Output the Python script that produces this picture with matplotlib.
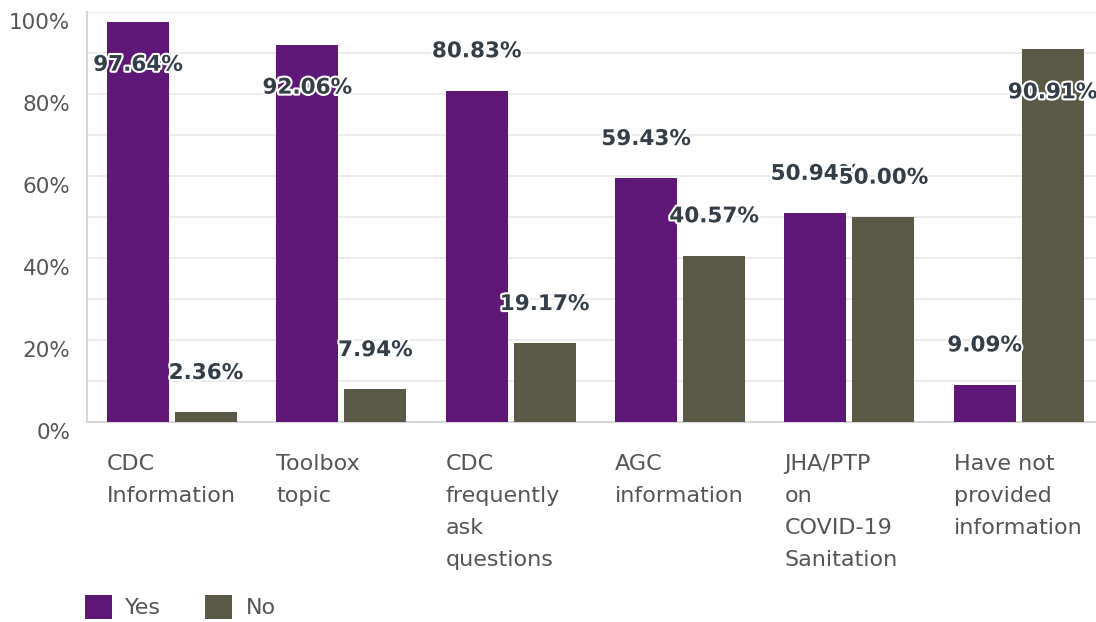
import matplotlib
matplotlib.use('Agg')
import matplotlib.pyplot as plt
import matplotlib.patheffects as pe
import matplotlib.transforms as mtransforms
from matplotlib.patches import Patch
import numpy as np

categories = ['CDC\nInformation', 'Toolbox\ntopic', 'CDC\nfrequently\nask\nquestions',
              'AGC\ninformation', 'JHA/PTP\non\nCOVID-19\nSanitation',
              'Have not\nprovided\ninformation']
yes_vals = [97.64, 92.06, 80.83, 59.43, 50.94, 9.09]
no_vals = [2.36, 7.94, 19.17, 40.57, 50.00, 90.91]
series_names = ['Yes', 'No']

YES_COLOR = '#5f1878'
NO_COLOR = '#5a5946'
TEXT_COLOR = '#555555'
LABEL_COLOR = '#333e48'

plt.rcParams['font.family'] = ['DejaVu Sans']

fig = plt.figure(figsize=(10.96, 6.22), dpi=100, facecolor='white')
ax = fig.add_axes([87 / 1096, 1 - 422 / 622, 1016 / 1096, 410 / 622])

x = np.arange(len(categories))
bw = 62 / 169.4
gap = 6 / 169.4
left0 = x - 0.5 + 20 / 169.4

ax.bar(left0, yes_vals, width=bw, align='edge', color=YES_COLOR, zorder=3)
ax.bar(left0 + bw + gap, no_vals, width=bw, align='edge', color=NO_COLOR, zorder=3)

# value labels, pushed inside the bar when they would leave the plot
outline = [pe.withStroke(linewidth=3, foreground='white')]
for i in range(len(categories)):
    for j, vals in enumerate([yes_vals, no_vals]):
        v = vals[i]
        cx = left0[i] + j * (bw + gap) + bw / 2
        ty = v + 9.6 if v + 14 <= 100 else v - 10.5
        ax.text(cx, ty, f'{v:.2f}%', ha='center', va='center', fontsize=15.5,
                fontweight='bold', color=LABEL_COLOR, path_effects=outline, zorder=5)

ax.set_xlim(-0.5, len(categories) - 0.5)
ax.set_ylim(0, 100)
ax.set_yticks(np.arange(0, 101, 20))
ax.set_yticklabels([f'{t}%' for t in range(0, 101, 20)])
ax.set_yticks(np.arange(10, 100, 20), minor=True)
ax.set_xticks([])
ax.tick_params(axis='y', which='both', length=0, pad=12, labelsize=15.5, labelcolor=TEXT_COLOR)
shift = mtransforms.ScaledTranslation(0, -9 / 100, fig.dpi_scale_trans)
for lbl in ax.get_yticklabels():
    lbl.set_transform(lbl.get_transform() + shift)
ax.grid(axis='y', which='both', color='#e9e9e9', linewidth=1.2, zorder=0)

for s in ['top', 'right']:
    ax.spines[s].set_visible(False)
ax.spines['left'].set_color('#d6d6d6')
ax.spines['bottom'].set_color('#d6d6d6')
ax.spines['left'].set_linewidth(1.5)
ax.spines['bottom'].set_linewidth(1.5)
ax.axhline(100, color='#ececec', linewidth=1.2, zorder=0)

trans = mtransforms.blended_transform_factory(ax.transData, fig.transFigure)
for i, lab in enumerate(categories):
    ax.text(left0[i], 1 - 454 / 622, lab, transform=trans, ha='left', va='top',
            fontsize=16, color=TEXT_COLOR, linespacing=1.74, clip_on=False)

handles = [Patch(facecolor=YES_COLOR, label=series_names[0]),
           Patch(facecolor=NO_COLOR, label=series_names[1])]
fig.legend(handles=handles, loc='center left', bbox_to_anchor=(65 / 1096, 1 - 607 / 622),
           ncol=2, frameon=False, fontsize=16, labelcolor=TEXT_COLOR,
           handlelength=1.2, handleheight=1.35, columnspacing=2.0, handletextpad=0.6)

fig.savefig('out.png', dpi=100, facecolor='white')
